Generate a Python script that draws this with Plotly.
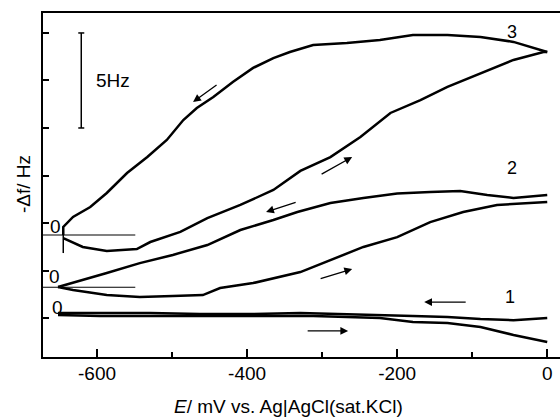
import plotly.graph_objects as go

# ---- data (E in mV, -Δf in Hz, curves offset as in the figure) ----
c3_fwd_E = [-645, -619, -587, -547, -529, -489, -453, -409, -365, -329, -289, -249, -209, -169, -133, -89, -45, -5, 0]
c3_fwd_f = [4.21, 3.74, 3.53, 3.63, 4.00, 4.53, 5.26, 5.95, 6.74, 7.74, 8.47, 9.53, 10.79, 11.47, 12.16, 12.89, 13.58, 14.0, 14.0]
c3_rev_E = [0, -45, -89, -133, -179, -223, -267, -312, -343, -365, -392, -419, -445, -467, -485, -507, -533, -560, -587, -609, -632, -645, -645]
c3_rev_f = [14.0, 14.53, 14.79, 14.89, 14.89, 14.63, 14.47, 14.37, 14.0, 13.68, 13.16, 12.42, 11.63, 11.05, 10.42, 9.37, 8.47, 7.63, 6.58, 5.84, 5.32, 4.79, 4.37]

c2_fwd_E = [-652, -632, -587, -543, -499, -459, -436, -392, -329, -289, -245, -200, -156, -112, -67, 0]
c2_fwd_f = [1.63, 1.47, 1.21, 1.11, 1.16, 1.21, 1.58, 1.84, 2.42, 3.05, 3.74, 4.26, 5.05, 5.58, 5.95, 6.11]
c2_rev_E = [0, -45, -80, -116, -156, -200, -245, -289, -333, -365, -409, -453, -499, -543, -587, -619, -652]
c2_rev_f = [6.47, 6.32, 6.47, 6.68, 6.63, 6.55, 6.32, 6.05, 5.58, 5.16, 4.63, 3.84, 3.32, 2.89, 2.37, 2.00, 1.63]

c1_fwd_E = [-652, -596, -529, -463, -396, -312, -267, -223, -179, -133, -89, -45, 0]
c1_fwd_f = [0.16, 0.11, 0.11, 0.11, 0.11, 0.11, 0.05, 0.0, -0.21, -0.26, -0.47, -0.89, -1.26]
c1_rev_E = [0, -45, -89, -133, -179, -223, -267, -329, -396, -463, -529, -596, -652]
c1_rev_f = [0.0, -0.11, -0.05, 0.05, 0.11, 0.16, 0.21, 0.26, 0.21, 0.21, 0.26, 0.26, 0.26]

zero_E = [-672, -549]
zero3_f = 4.37
zero2_f = 1.62

scale_E = -621
scale_f = [10, 15]

x_ticks_major = [-600, -400, -200, 0]
x_ticks_minor = [-500, -300, -100]
y_ticks = [0, 2.5, 5, 7.5, 10, 12.5, 15]

FONT = "Arial, Liberation Sans, Arimo, sans-serif"
LW = 2.5

fig = go.Figure()

def line(x, y, w=LW):
    fig.add_trace(go.Scatter(x=x, y=y, mode="lines",
                             line=dict(color="black", width=w),
                             showlegend=False, hoverinfo="skip"))

for xs, ys in [(c3_fwd_E, c3_fwd_f), (c3_rev_E, c3_rev_f),
               (c2_fwd_E, c2_fwd_f), (c2_rev_E, c2_rev_f),
               (c1_fwd_E, c1_fwd_f), (c1_rev_E, c1_rev_f)]:
    line(xs, ys)

# baselines
line(zero_E, [zero3_f, zero3_f], 1.2)
line(zero_E, [zero2_f, zero2_f], 1.2)
# start spike of curve 3
line([c3_fwd_E[0], c3_fwd_E[0]], [4.63, 3.42], 1.5)

# scale bar
line([scale_E, scale_E], scale_f, 1.5)
line([scale_E - 4, scale_E + 4], [scale_f[0], scale_f[0]], 1.5)
line([scale_E - 4, scale_E + 4], [scale_f[1], scale_f[1]], 1.5)

ann = []
def txt(x, y, s, xanchor="center", size=18):
    ann.append(dict(x=x, y=y, xref="x", yref="y", text=s, showarrow=False,
                    xanchor=xanchor, yanchor="middle",
                    font=dict(family=FONT, size=size, color="black")))

txt(-604, 12.5, "5Hz", xanchor="left", size=19)
txt(-47, 15.05, "3", size=18)
txt(-47, 7.89, "2", size=18)
txt(-49, 1.11, "1", size=18)
txt(-656, 4.84, "0", size=19)
txt(-657, 2.16, "0", size=19)
txt(-653, 0.53, "0", size=19)

def arrow(tail, head):
    ann.append(dict(x=head[0], y=head[1], ax=tail[0], ay=tail[1],
                    xref="x", yref="y", axref="x", ayref="y", text="",
                    showarrow=True, arrowhead=2, arrowsize=1.2,
                    arrowwidth=1.3, arrowcolor="black"))

arrow((-438.7, 12.32), (-472, 11.37))
arrow((-302.7, 7.53), (-260, 8.47))
arrow((-333.3, 6.11), (-374.7, 5.58))
arrow((-304, 2.05), (-260, 2.58))
arrow((-106.7, 0.84), (-164, 0.84))
arrow((-321.3, -0.68), (-265.3, -0.68))

W, H = 560, 418
L, R, T, B = 43, 560, 13, 357   # plot-area edges in pixels
pw, ph = R - L, B - T

# axis titles as annotations (paper coords are relative to the plot area)
ann.append(dict(x=(288 - L) / pw, y=(B - 406) / ph, xref="paper", yref="paper",
                text="<i>E</i>/ mV vs. Ag|AgCl(sat.KCl)", showarrow=False,
                xanchor="center", yanchor="middle",
                font=dict(family=FONT, size=19, color="black")))
ann.append(dict(x=(23 - L) / pw, y=(B - 184) / ph,
                xref="paper", yref="paper",
                text="-Δf/ Hz", showarrow=False, textangle=-90,
                xanchor="center", yanchor="middle",
                font=dict(family=FONT, size=19, color="black")))

fig.update_layout(
    width=W, height=H,
    margin=dict(l=L, r=W - R, t=T, b=H - B, autoexpand=False),
    paper_bgcolor="white", plot_bgcolor="white",
    font=dict(family=FONT, size=19, color="black"),
    annotations=ann,
    xaxis=dict(range=[-672, 17], tickvals=x_ticks_major,
               ticktext=[str(v) for v in x_ticks_major],
               ticks="inside", ticklen=8, tickwidth=1.5, tickcolor="black",
               minor=dict(tickvals=x_ticks_minor, ticks="inside",
                          ticklen=5, tickwidth=1.5, tickcolor="black"),
               showline=True, linecolor="black", linewidth=2, mirror=True,
               showgrid=False, zeroline=False, automargin=False,
               tickfont=dict(family=FONT, size=19),
               ticklabelstandoff=-2),
    yaxis=dict(range=[-2.05, 16.05], tickvals=y_ticks, showticklabels=False,
               ticks="inside", ticklen=6, tickwidth=1.5, tickcolor="black",
               showline=True, linecolor="black", linewidth=2,
               showgrid=False, zeroline=False, automargin=False),
)

fig.write_html("out.html",
               config={"displayModeBar": False},
               post_script="document.body.style.margin='0';"
                           "document.body.style.overflow='hidden';")
